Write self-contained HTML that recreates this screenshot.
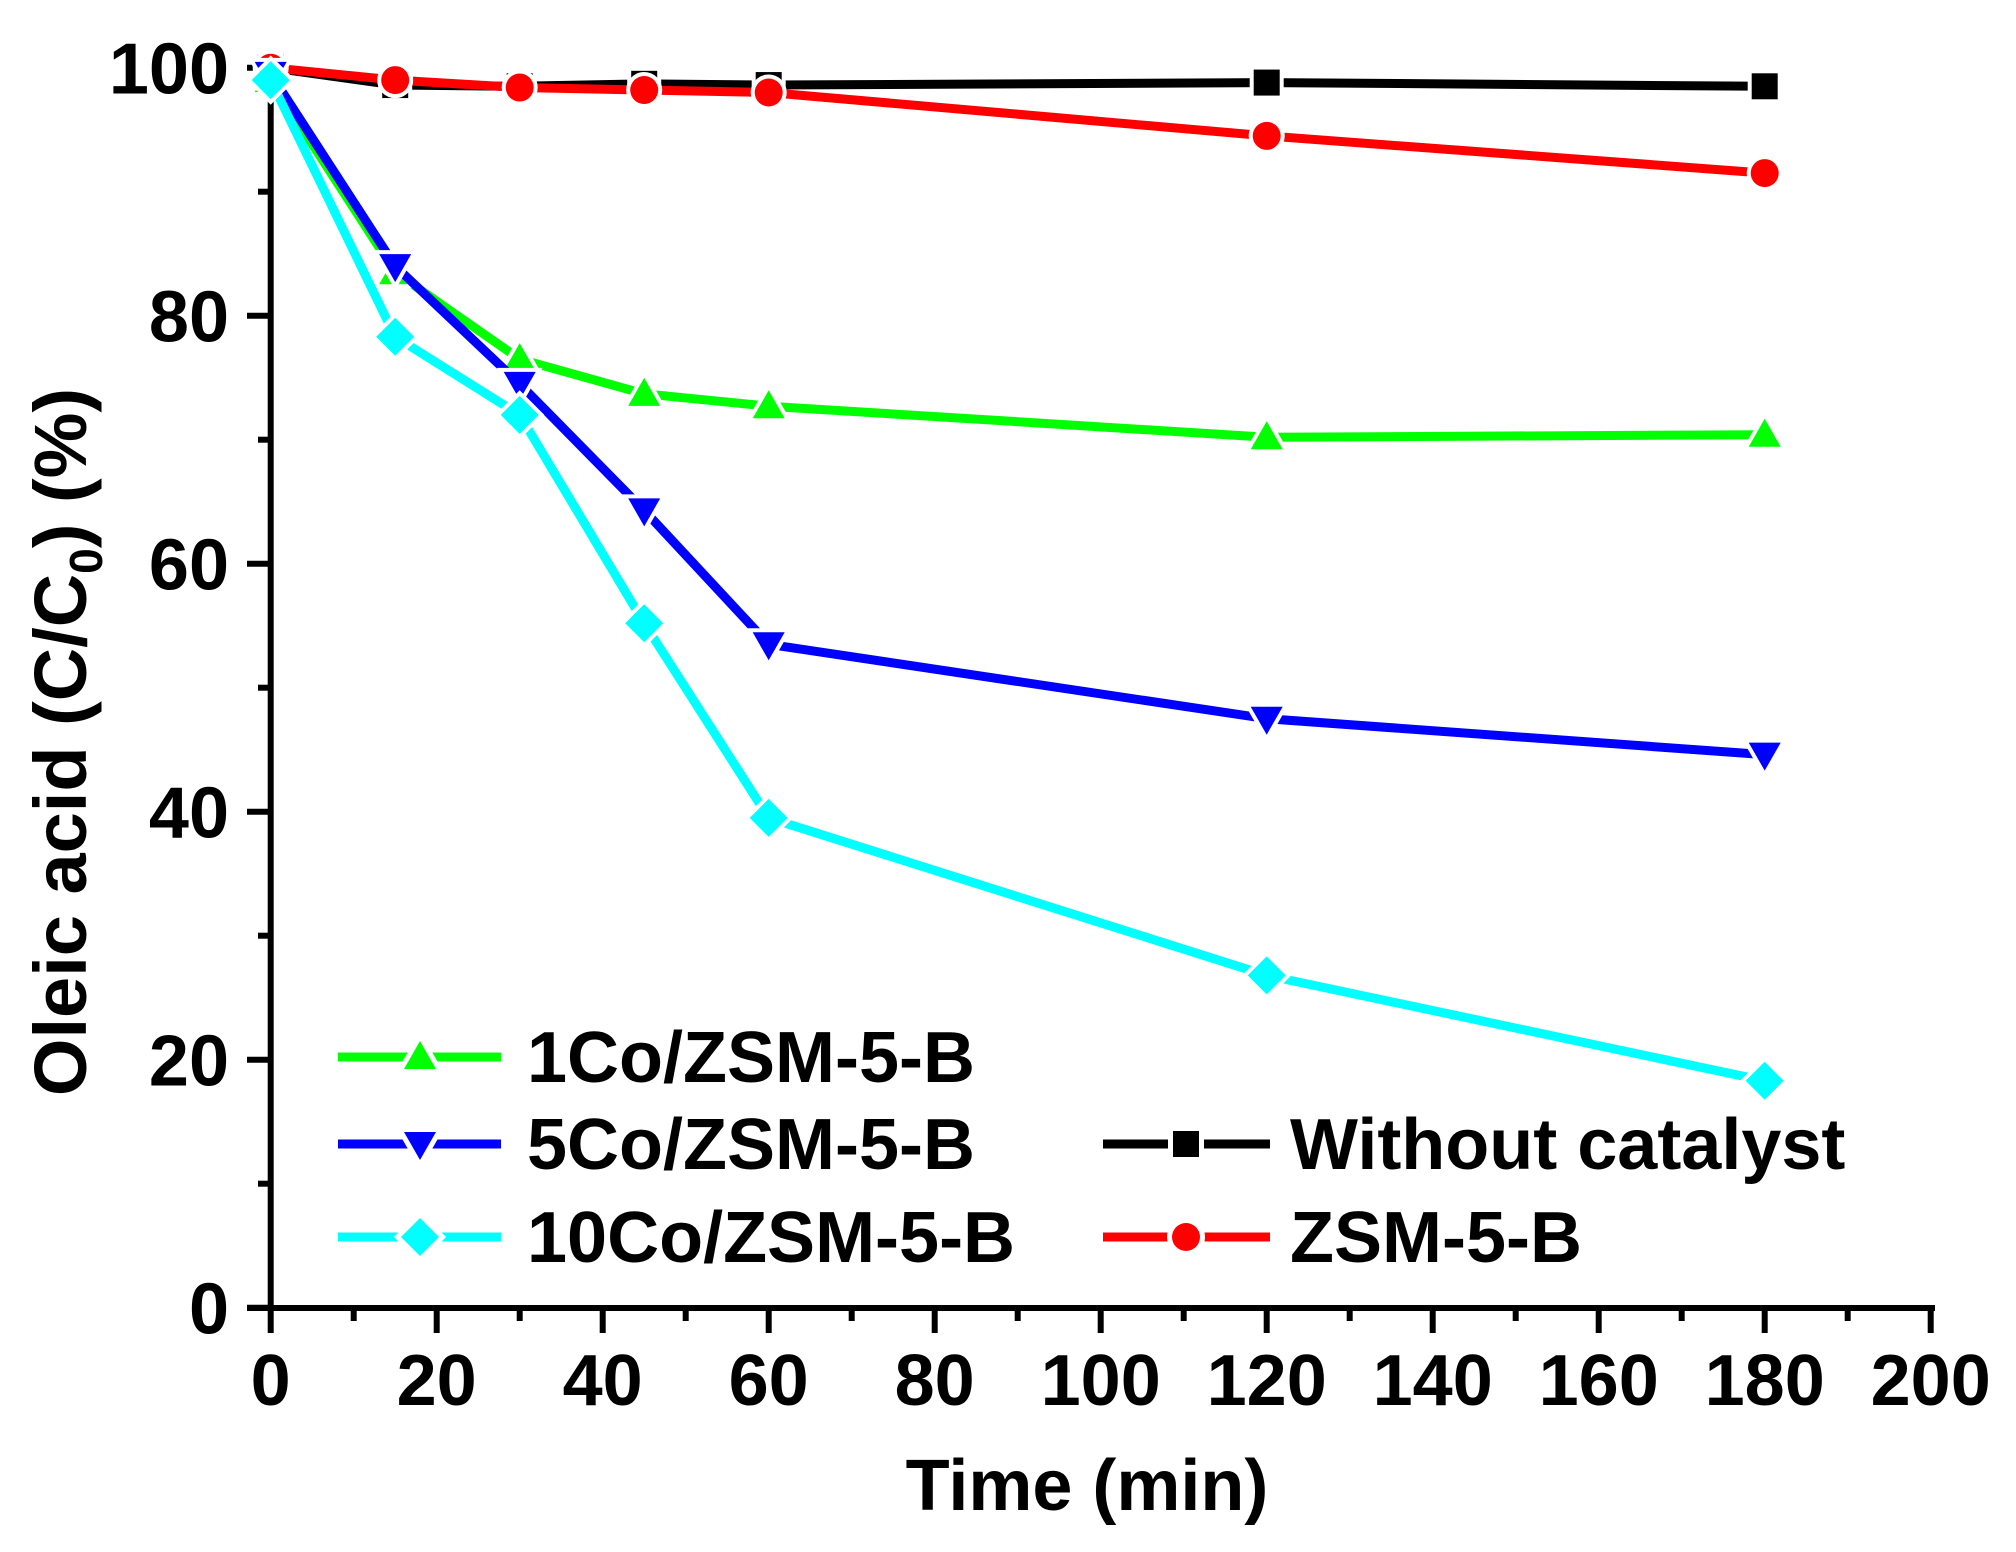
<!DOCTYPE html>
<html><head><style>body{margin:0;background:#fff}svg{display:block}</style></head><body>
<svg width="2016" height="1552" viewBox="0 0 2016 1552" xmlns="http://www.w3.org/2000/svg" font-family="Liberation Sans, Arial, sans-serif" font-weight="bold">
<defs>
<path id="tri" d="M0,-16 L16,12 L-16,12 Z"/>
<path id="itri" d="M0,16 L16,-12 L-16,-12 Z"/>
<path id="dia" d="M0,-19 L19,0 L0,19 L-19,0 Z"/>
<rect id="sq" x="-13" y="-13" width="26" height="26"/>
<circle id="cir" r="14"/>
</defs>
<g stroke="#000" stroke-width="6" fill="none">
<line x1="270.7" y1="66" x2="270.7" y2="1311"/>
<line x1="247" y1="1308" x2="1935" y2="1308"/>
</g>
<g id="ticks" stroke="#000" stroke-width="6"></g>
<g id="labels" font-size="72" fill="#000"></g>
<g id="series"></g>
<text x="0" y="0" font-size="74" fill="#000" text-anchor="middle" transform="translate(86,742) rotate(-90)">Oleic acid (C/C<tspan font-size="46" dy="16">0</tspan><tspan dy="-16">) (%)</tspan></text>
<text x="1087" y="1510" font-size="72" fill="#000" text-anchor="middle">Time (min)</text>
<g font-size="72" fill="#000">
<line x1="338" y1="1057" x2="501" y2="1057" stroke="#00ff00" stroke-width="9"/><use href="#tri" x="420" y="1057" fill="#00ff00" stroke="#fff" stroke-width="10" paint-order="stroke"/>
<text x="527" y="1082">1Co/ZSM-5-B</text>
<line x1="338" y1="1144" x2="501" y2="1144" stroke="#0000ff" stroke-width="9"/><use href="#itri" x="420" y="1144" fill="#0000ff" stroke="#fff" stroke-width="10" paint-order="stroke"/>
<text x="527" y="1169">5Co/ZSM-5-B</text>
<line x1="338" y1="1237" x2="501" y2="1237" stroke="#00ffff" stroke-width="9"/><use href="#dia" x="420" y="1237" fill="#00ffff" stroke="#fff" stroke-width="10" paint-order="stroke"/>
<text x="527" y="1262">10Co/ZSM-5-B</text>
<line x1="1103" y1="1144" x2="1270" y2="1144" stroke="#000" stroke-width="9"/><use href="#sq" x="1186" y="1144" fill="#000" stroke="#fff" stroke-width="10" paint-order="stroke"/>
<text x="1290" y="1169">Without catalyst</text>
<line x1="1103" y1="1237" x2="1270" y2="1237" stroke="#ff0000" stroke-width="9"/><use href="#cir" x="1186" y="1237" fill="#ff0000" stroke="#fff" stroke-width="10" paint-order="stroke"/>
<text x="1290" y="1262">ZSM-5-B</text>
</g>
<script>
const X=v=>270.7+v*8.3, Y=v=>1307.7-v*12.4, NS="http://www.w3.org/2000/svg";
const t=document.getElementById('ticks'), l=document.getElementById('labels'), s=document.getElementById('series');
function el(p,n,a,txt){const e=document.createElementNS(NS,n);for(const k in a)e.setAttribute(k,a[k]);if(txt!=null)e.textContent=txt;p.appendChild(e);return e;}
for(let v=0;v<=200;v+=10){const maj=v%20==0;el(t,'line',{x1:X(v),y1:1308,x2:X(v),y2:maj?1333:1321});if(maj)el(l,'text',{x:X(v),y:1405,'text-anchor':'middle'},v);}
for(let v=0;v<=100;v+=10){const maj=v%20==0;el(t,'line',{x1:270.7,y1:Y(v),x2:maj?247:258,y2:Y(v)});if(maj)el(l,'text',{x:229,y:Y(v)+26,'text-anchor':'end'},v);}
const xs=[0,15,30,45,60,120,180];
const data=[
['#000','#sq',[100,98.6,98.5,98.7,98.6,98.8,98.5]],
['#ff0000','#cir',[100,99,98.4,98.2,98,94.5,91.5]],
['#00ff00','#tri',[99,83.5,76.5,73.7,72.7,70.2,70.4]],
['#0000ff','#itri',[99.5,84,74.5,64.3,53.5,47.5,44.6]],
['#00ffff','#dia',[99,78.3,72,55.2,39.5,26.8,18.3]]];
for(const [c,m,ys] of data){
el(s,'polyline',{points:ys.map((y,i)=>X(xs[i])+','+Y(y)).join(' '),fill:'none',stroke:c,'stroke-width':9,'stroke-linejoin':'miter'});
ys.forEach((y,i)=>el(s,'use',{href:m,x:X(xs[i]),y:Y(y),fill:c,stroke:'#fff','stroke-width':8,'paint-order':'stroke'}));}
</script>
</svg>
</body></html>
